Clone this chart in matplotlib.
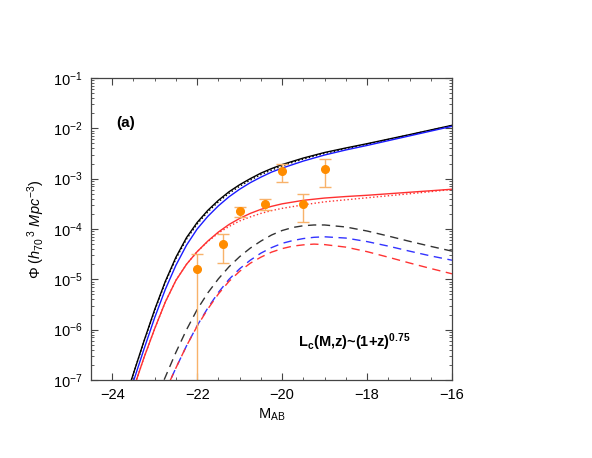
import numpy as np
import matplotlib.pyplot as plt
from matplotlib.ticker import MultipleLocator, LogLocator, LogFormatterSciNotation, NullFormatter

plt.rcParams['font.family'] = ['Liberation Sans', 'DejaVu Sans']
plt.rcParams['mathtext.fontset'] = 'custom'
plt.rcParams['mathtext.rm'] = 'Liberation Sans'
plt.rcParams['mathtext.it'] = 'Liberation Sans:italic'
plt.rcParams['mathtext.bf'] = 'Liberation Sans:bold'

# observed points (M_AB, Phi, symmetric error)
obs_M = [-22.0, -21.4, -21.0, -20.4, -20.0, -19.5, -19.0]
obs_phi = [1.6e-5, 5.0e-5, 2.25e-4, 3.2e-4, 1.42e-3, 3.2e-4, 1.58e-3]
obs_err = [1.6e-5, 2.85e-5, 0.52e-4, 0.8e-4, 0.57e-3, 1.84e-4, 0.91e-3]

# model curves, log10(Phi)
black_M = [-23.65, -23.55, -23.25, -23.0, -22.75, -22.5, -22.25, -22.0, -21.75, -21.5, -21.25,
           -21.0, -20.75, -20.5, -20.25, -20.0, -19.5, -19.0, -18.5, -18.0, -17.0, -16.0]
black_solid = [-7.27, -7.0, -6.22, -5.6, -5.04, -4.56, -4.17, -3.87, -3.63, -3.43, -3.26,
               -3.12, -3.0, -2.89, -2.8, -2.72, -2.59, -2.48, -2.39, -2.305, -2.125, -1.94]
black_dot = [-7.27, -7.0, -6.23, -5.62, -5.06, -4.59, -4.2, -3.9, -3.66, -3.46, -3.29,
             -3.15, -3.03, -2.92, -2.83, -2.745, -2.61, -2.5, -2.405, -2.315, -2.13, -1.945]

blue_M = [-23.58, -23.49, -23.25, -23.0, -22.75, -22.5, -22.25, -22.0, -21.75, -21.5, -21.25,
          -21.0, -20.75, -20.5, -20.25, -20.0, -19.5, -19.0, -18.5, -18.0, -17.0, -16.0]
blue_solid = [-7.3, -7.0, -6.38, -5.76, -5.2, -4.72, -4.32, -4.0, -3.75, -3.54, -3.36,
              -3.21, -3.08, -2.97, -2.87, -2.79, -2.65, -2.53, -2.43, -2.34, -2.15, -1.96]

red_M = [-23.52, -23.43, -23.25, -23.0, -22.75, -22.5, -22.25, -22.0, -21.75, -21.5, -21.25,
         -21.0, -20.75, -20.5, -20.25, -20.0, -19.5, -19.0, -18.5, -18.0, -17.0, -16.0]
red_solid = [-7.27, -7.0, -6.55, -5.98, -5.45, -5.02, -4.7, -4.45, -4.24, -4.06, -3.91,
             -3.79, -3.69, -3.61, -3.55, -3.5, -3.43, -3.385, -3.355, -3.33, -3.27, -3.21]
red_dot = [-7.27, -7.0, -6.55, -5.98, -5.45, -5.02, -4.7, -4.45, -4.25, -4.08, -3.95,
           -3.84, -3.76, -3.69, -3.635, -3.59, -3.52, -3.46, -3.42, -3.38, -3.3, -3.215]

bdash_M = [-22.9, -22.78, -22.5, -22.25, -22.0, -21.75, -21.5, -21.25, -21.0, -20.75, -20.5, -20.25,
           -20.0, -19.75, -19.5, -19.25, -19.0, -18.5, -18.0, -17.5, -17.0, -16.5, -16.0]
black_dash = [-7.25, -7.0, -6.45, -6.0, -5.6, -5.27, -4.99, -4.75, -4.55, -4.38, -4.24, -4.12,
              -4.03, -3.97, -3.935, -3.92, -3.92, -3.96, -4.04, -4.14, -4.245, -4.345, -4.44]

cdash_M = [-22.75, -22.63, -22.5, -22.25, -22.0, -21.75, -21.5, -21.25, -21.0, -20.75, -20.5, -20.25,
           -20.0, -19.75, -19.5, -19.25, -19.0, -18.5, -18.0, -17.5, -17.0, -16.5, -16.0]
blue_dash = [-7.2, -7.0, -6.76, -6.32, -5.92, -5.57, -5.26, -5.0, -4.79, -4.62, -4.48, -4.37,
             -4.285, -4.23, -4.19, -4.165, -4.155, -4.18, -4.25, -4.34, -4.44, -4.535, -4.62]
red_dash = [-7.2, -7.0, -6.76, -6.32, -5.93, -5.59, -5.29, -5.04, -4.84, -4.68, -4.56, -4.46,
            -4.39, -4.34, -4.315, -4.3, -4.31, -4.36, -4.45, -4.56, -4.675, -4.785, -4.89]

fig = plt.figure(figsize=(5.92, 4.58), dpi=100)
ax = fig.add_axes([0.1537, 0.1703, 0.6098, 0.6594])

def p(v):
    return 10 ** np.array(v)

ax.plot(black_M, p(black_solid), color='black', lw=1.0)
ax.plot(black_M, p(black_dot), color='black', lw=1.0, ls=':')
ax.plot(blue_M, p(blue_solid), color='#1a1aff', lw=1.0)
ax.plot(red_M, p(red_solid), color='#ff3030', lw=1.0)
ax.plot(red_M, p(red_dot), color='#ff3030', lw=1.0, ls=':')
ax.plot(bdash_M, p(black_dash), color='#333333', lw=1.0, ls=(0, (6, 4)))
ax.plot(cdash_M, p(blue_dash), color='#3333ff', lw=1.0, ls=(0, (6, 4)))
ax.plot(cdash_M, p(red_dash), color='#ff3333', lw=1.0, ls=(3, (6, 4)))

ax.errorbar(obs_M, obs_phi, yerr=obs_err, fmt='none', ecolor='#f8b26a',
            elinewidth=1.0, capsize=4.3, capthick=1.0)
ax.plot(obs_M, obs_phi, 'o', color='#ff8c00', ms=5.5, mec='#ff8c00')

ax.set_yscale('log')
ax.set_xlim(-24.5, -16)
ax.set_ylim(1e-7, 1e-1)

ax.xaxis.set_major_locator(MultipleLocator(2))
ax.xaxis.set_minor_locator(MultipleLocator(0.5))
ax.yaxis.set_major_locator(LogLocator(base=10, numticks=10))
ax.yaxis.set_minor_locator(LogLocator(base=10, subs=np.arange(2, 10), numticks=20))
ax.yaxis.set_major_formatter(LogFormatterSciNotation())
ax.yaxis.set_minor_formatter(NullFormatter())

ax.tick_params(which='both', direction='in', top=True, right=True, colors='#444444',
               labelcolor='black', labelsize=10.5)
ax.tick_params(which='major', length=5, pad=6)
ax.tick_params(which='minor', length=2.5)
for s in ax.spines.values():
    s.set_color('#444444')
    s.set_linewidth(0.9)

ax.set_xlabel(r'M$_{\rm AB}$', fontsize=10.5, labelpad=3)
ax.set_ylabel(r'$\Phi$ ($h_{70}\,{}^{3}$ $Mpc^{-3}$)', fontsize=10.5, labelpad=4)

ax.text(0.07, 0.85, '(a)', transform=ax.transAxes, fontsize=11, fontweight='bold',
        va='center')
ax.text(0.573, 0.125, r'L$_{\mathbf{c}}$(M,z)~(1+z)$^{\mathbf{0.75}}$', transform=ax.transAxes,
        fontsize=10.5, fontweight='bold', va='center')

fig.savefig('out.png', dpi=100)
